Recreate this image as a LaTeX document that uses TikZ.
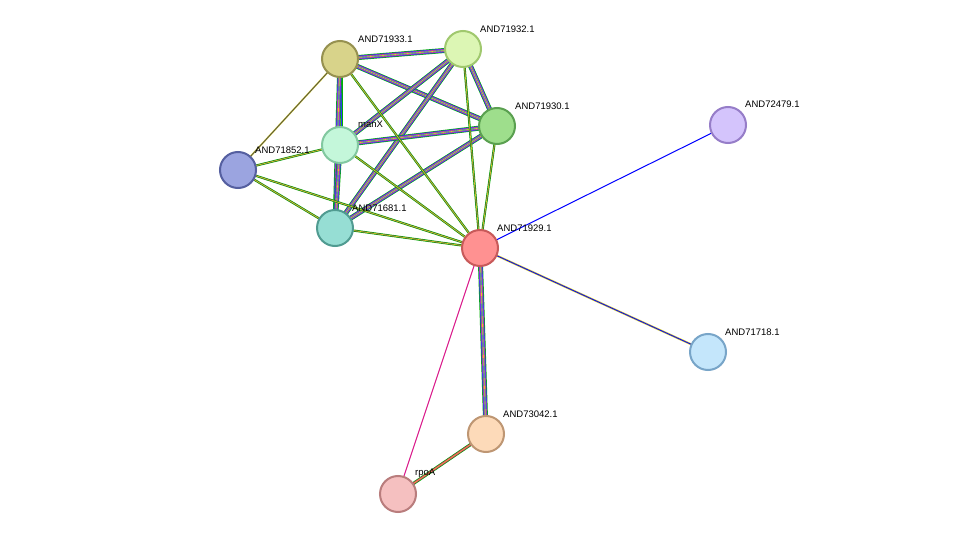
\documentclass[tikz,border=0pt]{standalone}
\usepackage{fontspec}
\setmainfont{Liberation Sans}
\begin{document}
\begin{tikzpicture}[x=1pt,y=-1pt,
  prot/.style={circle,minimum size=36pt,inner sep=0pt,line width=2pt},
  lab/.style={font=\fontsize{9.5}{11}\selectfont,anchor=south west,inner sep=1pt},
  full/.style={line width=5pt,draw=green!70!black},
  e1/.style={line width=3.8pt,draw=blue!80},
  e2/.style={line width=2.6pt,draw=magenta!80},
  e3/.style={line width=1.4pt,draw=cyan!60!blue},
  e4/.style={line width=0.6pt,draw=yellow!85!black}]
\useasboundingbox (0,0) rectangle (975,540);
\fill[white] (0,0) rectangle (975,540);
\coordinate (p33) at (340,59);
\coordinate (p32) at (463,49);
\coordinate (p30) at (497,126);
\coordinate (pmx) at (340,145);
\coordinate (p52) at (238,170);
\coordinate (p81) at (335,228);
\coordinate (p29) at (480,248);
\coordinate (p79) at (728,125);
\coordinate (p18) at (708,352);
\coordinate (p42) at (486,434);
\coordinate (prp) at (398,494);
\newcommand\bund[2]{\draw[full](#1)--(#2);\draw[e1](#1)--(#2);\draw[e2](#1)--(#2);\draw[e3](#1)--(#2);\draw[e4](#1)--(#2);}
\newcommand\thin[2]{\draw[line width=2.2pt,draw=green!70!black](#1)--(#2);\draw[line width=1.2pt,black!70](#1)--(#2);\draw[e4](#1)--(#2);}
\foreach \a/\b in {p33/p32,p33/p30,p33/pmx,p33/p81,p32/p30,p32/pmx,p32/p81,p30/pmx,p30/p81,pmx/p81}{\bund{\a}{\b}}
\foreach \a/\b in {p33/p29,p32/p29,p30/p29,pmx/p29,p81/p29,p52/pmx,p52/p81,p52/p29}{\thin{\a}{\b}}
\draw[line width=1.6pt,yellow!80!black](p52)--(p33);\draw[line width=0.7pt,black!70](p52)--(p33);
\draw[line width=1pt,blue](p29)--(p79);
\draw[line width=2pt,yellow!80!black](p29)--(p18);\draw[line width=0.8pt,blue](p29)--(p18);
\bund{p29}{p42}
\draw[line width=1pt,magenta!80!violet](p29)--(prp);
\draw[line width=3.2pt,green!70!black](p42)--(prp);\draw[line width=1.8pt,magenta](p42)--(prp);\draw[e4](p42)--(prp);
\node[prot,fill={rgb,255:red,216;green,211;blue,138},draw={rgb,255:red,150;green,145;blue,80}] (n33) at (p33) {};
\node[prot,fill={rgb,255:red,220;green,246;blue,180},draw={rgb,255:red,160;green,200;blue,110}] (n32) at (p32) {};
\node[prot,fill={rgb,255:red,158;green,222;blue,140},draw={rgb,255:red,90;green,160;blue,80}] (n30) at (p30) {};
\node[prot,fill={rgb,255:red,196;green,247;blue,218},draw={rgb,255:red,130;green,200;blue,160}] (nmx) at (pmx) {};
\node[prot,fill={rgb,255:red,155;green,164;blue,224},draw={rgb,255:red,85;green,95;blue,160}] (n52) at (p52) {};
\node[prot,fill={rgb,255:red,150;green,222;blue,212},draw={rgb,255:red,80;green,155;blue,145}] (n81) at (p81) {};
\node[prot,fill={rgb,255:red,255;green,145;blue,145},draw={rgb,255:red,200;green,90;blue,90}] (n29) at (p29) {};
\node[prot,fill={rgb,255:red,212;green,196;blue,252},draw={rgb,255:red,150;green,125;blue,200}] (n79) at (p79) {};
\node[prot,fill={rgb,255:red,196;green,230;blue,251},draw={rgb,255:red,120;green,165;blue,200}] (n18) at (p18) {};
\node[prot,fill={rgb,255:red,253;green,218;blue,185},draw={rgb,255:red,190;green,150;blue,115}] (n42) at (p42) {};
\node[prot,fill={rgb,255:red,245;green,192;blue,192},draw={rgb,255:red,185;green,125;blue,125}] (nrp) at (prp) {};
\node[lab] at (357,44) {AND71933.1};
\node[lab] at (479,34) {AND71932.1};
\node[lab] at (514,111) {AND71930.1};
\node[lab] at (357,129) {manX};
\node[lab] at (254,155) {AND71852.1};
\node[lab] at (351,213) {AND71681.1};
\node[lab] at (496,233) {AND71929.1};
\node[lab] at (744,109) {AND72479.1};
\node[lab] at (724,337) {AND71718.1};
\node[lab] at (502,419) {AND73042.1};
\node[lab] at (414,479) {rpoA};
\end{tikzpicture}
\end{document}
